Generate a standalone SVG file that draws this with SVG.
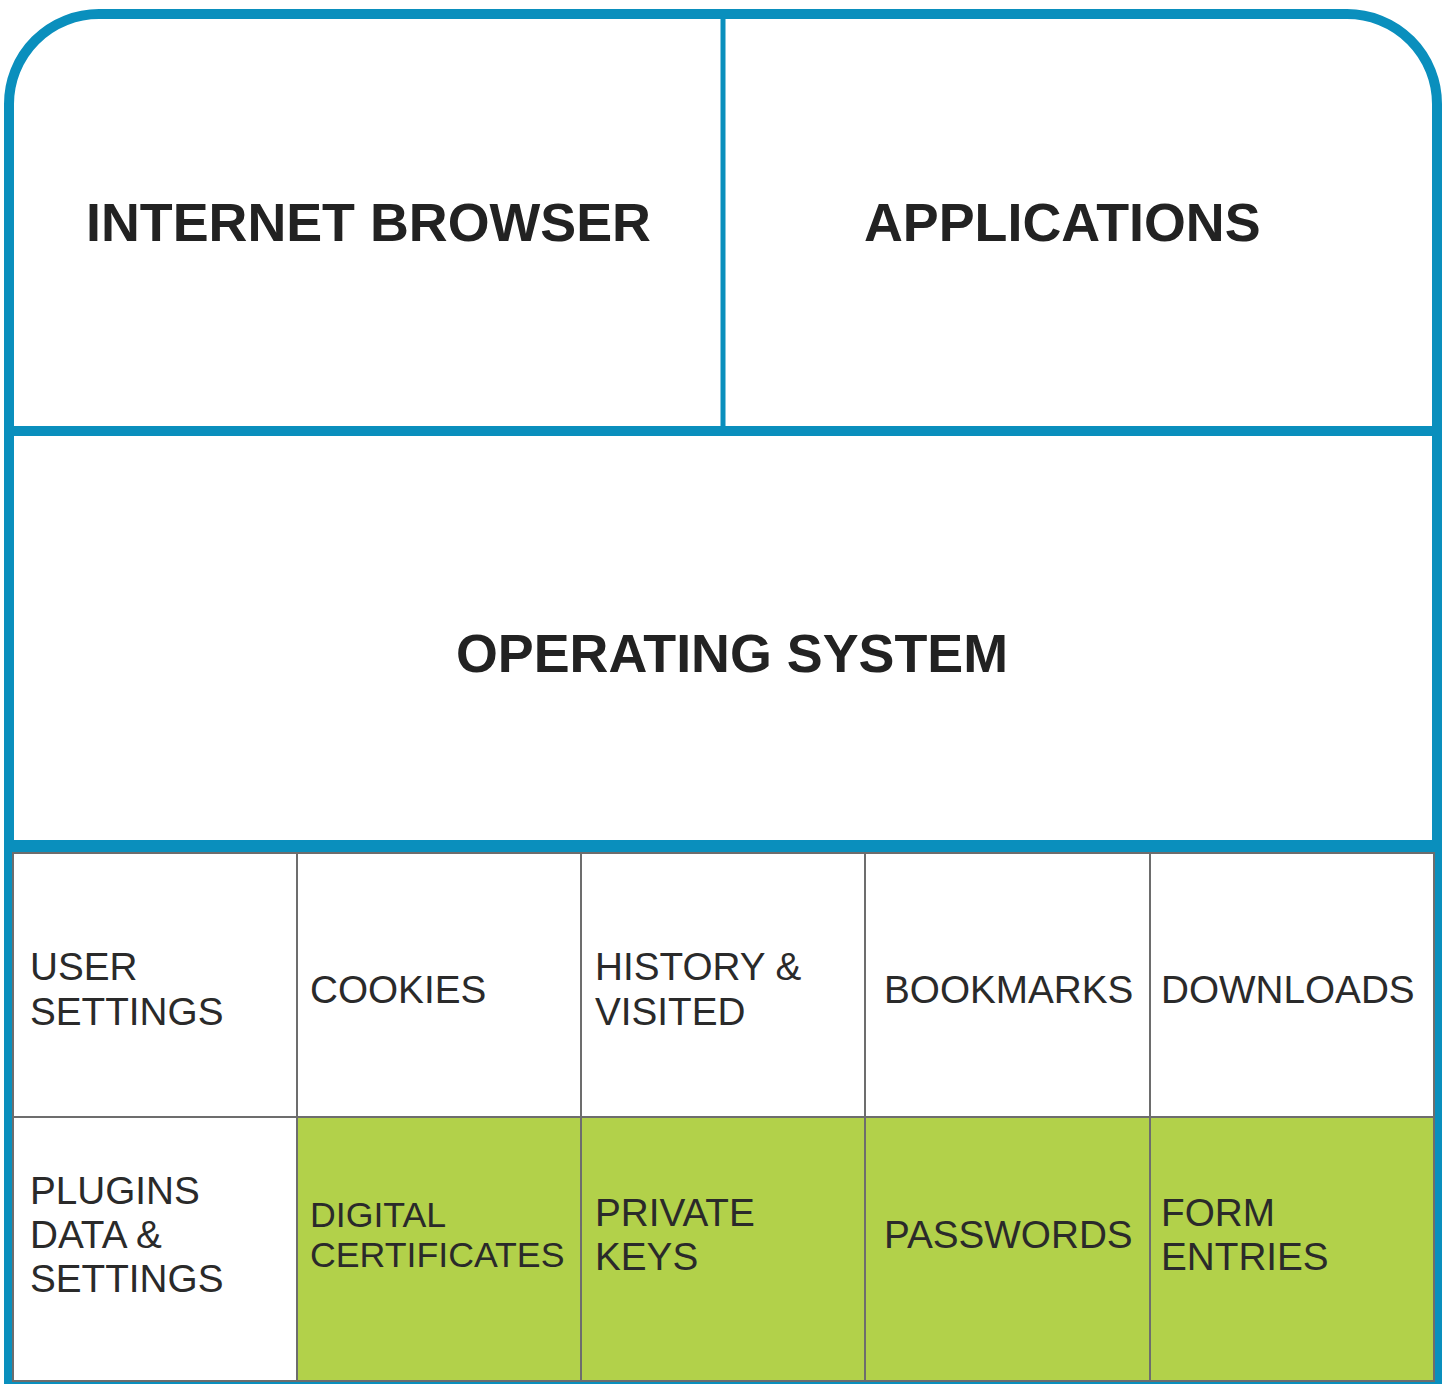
<svg xmlns="http://www.w3.org/2000/svg" width="1449" height="1384" viewBox="0 0 1449 1384">
<style>
.blue{fill:none;stroke:#0a8fbd}
.cell{stroke:#6d6d6d;stroke-width:2}
.w{fill:#ffffff}
.g{fill:#b2d14a}
.title{font-family:"Liberation Sans",Arial,sans-serif;font-weight:bold;font-size:53.8px;fill:#222222}
.lbl{font-family:"Liberation Sans",Arial,sans-serif;font-size:38.7px;fill:#2a2a2a}
</style>
<rect width="1449" height="1384" fill="#ffffff"/>
<g id="frame">
<path class="blue" stroke-width="10" d="M9,1384 V104 A90,90 0 0 1 99,14 H1347 A90,90 0 0 1 1437,104 V1384"/>
<line class="blue" stroke-width="10" x1="9" y1="431" x2="1437" y2="431"/>
<line class="blue" stroke-width="5" x1="723" y1="14" x2="723" y2="431"/>
<line class="blue" stroke-width="12" x1="9" y1="846" x2="1437" y2="846"/>
<line class="blue" stroke-width="4" x1="9" y1="1383" x2="1437" y2="1383"/>
</g>
<g id="internet-browser"><text class="title" x="86" y="241">INTERNET BROWSER</text></g>
<g id="applications"><text class="title" x="864" y="241">APPLICATIONS</text></g>
<g id="operating-system"><text class="title" x="456" y="672">OPERATING SYSTEM</text></g>
<g id="user-settings"><rect class="cell w" x="13" y="853" width="284" height="264"/><text class="lbl" x="30" y="980">USER</text><text class="lbl" x="30" y="1025">SETTINGS</text></g>
<g id="cookies"><rect class="cell w" x="297" y="853" width="284" height="264"/><text class="lbl" x="310" y="1003">COOKIES</text></g>
<g id="history"><rect class="cell w" x="581" y="853" width="284" height="264"/><text class="lbl" x="595" y="980">HISTORY &amp;</text><text class="lbl" x="595" y="1025">VISITED</text></g>
<g id="bookmarks"><rect class="cell w" x="865" y="853" width="285" height="264"/><text class="lbl" x="884" y="1003">BOOKMARKS</text></g>
<g id="downloads"><rect class="cell w" x="1150" y="853" width="284" height="264"/><text class="lbl" x="1161" y="1003">DOWNLOADS</text></g>
<g id="plugins"><rect class="cell w" x="13" y="1117" width="284" height="264"/><text class="lbl" x="30" y="1204">PLUGINS</text><text class="lbl" x="30" y="1248">DATA &amp;</text><text class="lbl" x="30" y="1292">SETTINGS</text></g>
<g id="digital-certificates"><rect class="cell g" x="297" y="1117" width="284" height="264"/><text class="lbl" x="310" y="1227" style="font-size:35.7px">DIGITAL</text><text class="lbl" x="310" y="1267" style="font-size:35.7px">CERTIFICATES</text></g>
<g id="private-keys"><rect class="cell g" x="581" y="1117" width="284" height="264"/><text class="lbl" x="595" y="1226">PRIVATE</text><text class="lbl" x="595" y="1270">KEYS</text></g>
<g id="passwords"><rect class="cell g" x="865" y="1117" width="285" height="264"/><text class="lbl" x="884" y="1248">PASSWORDS</text></g>
<g id="form-entries"><rect class="cell g" x="1150" y="1117" width="284" height="264"/><text class="lbl" x="1161" y="1226">FORM</text><text class="lbl" x="1161" y="1270">ENTRIES</text></g>
<g id="connectors"></g>
</svg>
